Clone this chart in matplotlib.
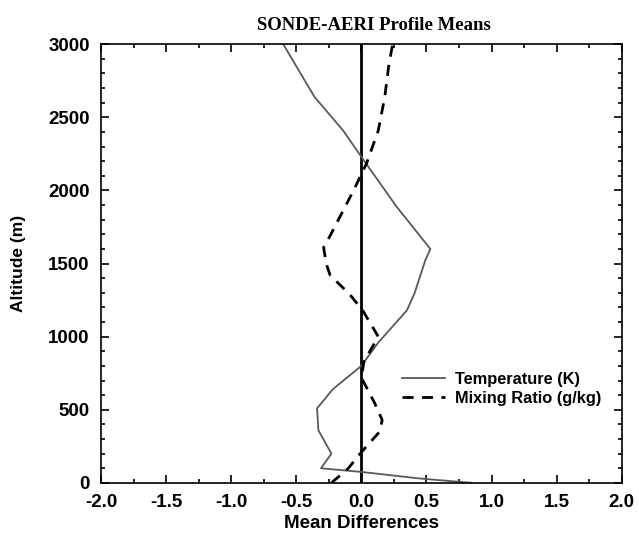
import matplotlib
matplotlib.use("Agg")
import matplotlib.pyplot as plt
from matplotlib.ticker import MultipleLocator

# profile points (mean difference, altitude in m)
temp_diff = [0.85, 0.45, 0.0, -0.31, -0.23, -0.33, -0.34, -0.22, 0.0, 0.13,
             0.35, 0.41, 0.49, 0.53, 0.27, 0.0, -0.14, -0.36, -0.6]
temp_alt = [0, 30, 75, 100, 200, 360, 510, 640, 800, 960,
            1180, 1300, 1520, 1600, 1890, 2230, 2410, 2640, 3000]

mix_diff = [-0.23, -0.10, 0.0, 0.14, 0.16, 0.10, 0.0, 0.02, 0.13, 0.01, -0.09,
            -0.24, -0.27, -0.29, -0.24, -0.06, 0.04, 0.13, 0.18, 0.21, 0.24]
mix_alt = [0, 100, 210, 350, 430, 550, 720, 830, 1000, 1180, 1290,
           1420, 1500, 1610, 1690, 2000, 2185, 2410, 2640, 2850, 3000]

plt.rcParams['font.family'] = ['Liberation Sans', 'DejaVu Sans']

fig = plt.figure(figsize=(6.39, 5.33), dpi=100)
ax = fig.add_axes([0.158, 0.094, 0.815, 0.823])

ax.axvline(0, color='black', lw=2)
ax.plot(temp_diff, temp_alt, color='0.35', lw=1.3, label='Temperature (K)')
ax.plot(mix_diff, mix_alt, color='black', lw=2, dashes=(4, 3), label='Mixing Ratio (g/kg)')

ax.set_xlim(-2, 2)
ax.set_ylim(0, 3000)
ax.xaxis.set_major_locator(MultipleLocator(0.5))
ax.xaxis.set_minor_locator(MultipleLocator(0.25))
ax.yaxis.set_major_locator(MultipleLocator(500))
ax.yaxis.set_minor_locator(MultipleLocator(100))
ax.xaxis.set_major_formatter(plt.FormatStrFormatter('%.1f'))
ax.tick_params(which='both', direction='in', top=True, right=True, width=1.2)
ax.tick_params(which='major', length=6, labelsize=13.5, pad=8)
ax.tick_params(which='minor', length=3)
for lbl in ax.get_xticklabels() + ax.get_yticklabels():
    lbl.set_fontweight('bold')
for s in ax.spines.values():
    s.set_linewidth(1.2)

ax.set_xlabel('Mean Differences', fontsize=13.5, fontweight='bold', labelpad=3)
ax.set_ylabel('Altitude (m)', fontsize=12.5, fontweight='bold', labelpad=16)
ax.set_title('SONDE-AERI Profile Means', fontsize=13.5, fontweight='bold',
             family='Liberation Serif', pad=10, x=0.525)

leg = ax.legend(loc='center left', bbox_to_anchor=(0.55, 0.215), frameon=False,
                handlelength=2.6, handletextpad=0.6, fontsize=11.8, labelspacing=0.25)
for t in leg.get_texts():
    t.set_fontweight('bold')

fig.savefig('out.png', dpi=100)
